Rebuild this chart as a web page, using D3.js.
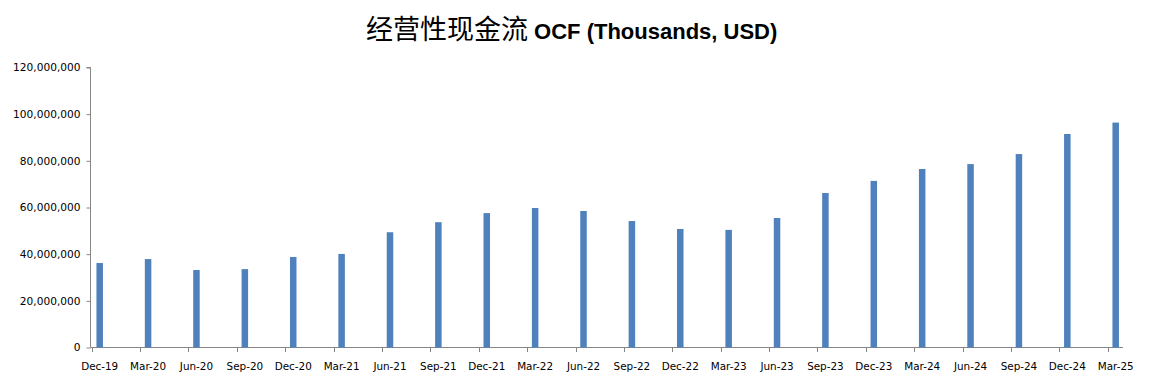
<!DOCTYPE html>
<html>
<head>
<meta charset="utf-8">
<script src="https://cdn.jsdelivr.net/npm/d3@7"></script>
<style>
  html, body { margin: 0; padding: 0; background: #fff; }
  svg { display: block; }
</style>
</head>
<body>
<svg id="chart" width="1159" height="391"></svg>
<script>
const categories = ["Dec-19","Mar-20","Jun-20","Sep-20","Dec-20","Mar-21","Jun-21","Sep-21","Dec-21","Mar-22","Jun-22","Sep-22","Dec-22","Mar-23","Jun-23","Sep-23","Dec-23","Mar-24","Jun-24","Sep-24","Dec-24","Mar-25"];
const ocfValues = [36200000,37900000,33200000,33600000,38800000,40100000,49400000,53700000,57600000,59800000,58500000,54200000,50800000,50400000,55500000,66200000,71400000,76500000,78600000,82900000,91500000,96400000];
const yTicks = [0,20000000,40000000,60000000,80000000,100000000,120000000];
const titleCN = "经营性现金流";
const titleEN = " OCF (Thousands, USD)";

const svg = d3.select("#chart");
const x = d3.scalePoint().domain(categories).range([99.7, 1115.7]);
const y = d3.scaleLinear().domain([0, 120000000]).range([347.5, 67.5]);
const axisColor = "#868686";
const fmt = d3.format(",");

// Title
const title = svg.append("text").attr("x", 366).attr("y", 39).attr("fill", "#000");
title.append("tspan").attr("font-family", "'Noto Sans CJK SC'").attr("font-size", 27).text(titleCN);
title.append("tspan").attr("font-family", "'Liberation Sans', Arial, sans-serif").attr("font-weight", "bold").attr("font-size", 22).text(titleEN);

// Y axis
const yAxis = d3.axisLeft(y).tickValues(yTicks).tickFormat(d => fmt(d)).tickSize(4).tickPadding(6);
const gy = svg.append("g").attr("transform", "translate(90.5,0)").call(yAxis);
gy.select(".domain").attr("stroke", axisColor).attr("d", `M-4,${y(120000000)}H0V${y(0)}`);
gy.selectAll(".tick line").attr("stroke", axisColor);
gy.selectAll(".tick text").attr("font-family", "'DejaVu Sans', sans-serif").attr("font-size", 10.6).attr("fill", "#000");

// X axis
const gx = svg.append("g").attr("transform", `translate(0,${y(0)})`);
gx.append("line").attr("x1", 90.5).attr("x2", 1123).attr("y1", 0).attr("y2", 0).attr("stroke", axisColor);
gx.selectAll("line.tk").data(categories).join("line").attr("class", "tk")
  .attr("x1", d => Math.round(x(d) - 8) + 0.5).attr("x2", d => Math.round(x(d) - 8) + 0.5)
  .attr("y1", 0).attr("y2", 4.5).attr("stroke", axisColor);
gx.selectAll("text").data(categories).join("text")
  .attr("x", d => x(d)).attr("y", 22.5).attr("text-anchor", "middle")
  .attr("font-family", "'DejaVu Sans', sans-serif").attr("font-size", 10.4).attr("fill", "#000")
  .text(d => d);

// Bars
const barW = 6.5;
svg.append("g").selectAll("rect").data(categories).join("rect")
  .attr("x", d => x(d) - barW / 2)
  .attr("y", (d, i) => y(ocfValues[i]))
  .attr("width", barW)
  .attr("height", (d, i) => y(0) - y(ocfValues[i]))
  .attr("fill", "#4F81BD");
</script>
</body>
</html>
